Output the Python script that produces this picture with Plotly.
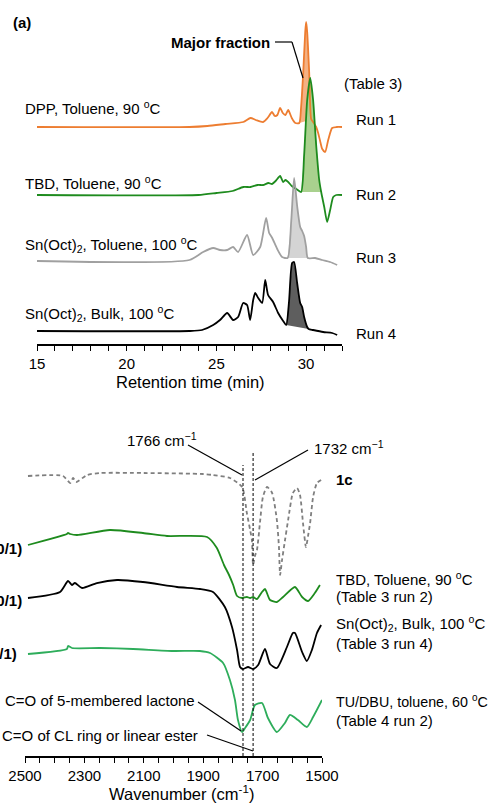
import numpy as np
import plotly.graph_objects as go

# ---------------- (a) GPC traces: retention time (min) vs detector signal ----------------
t_run1 = [15, 23.5, 24.5, 25.5, 26.5, 26.9, 27.2, 27.6, 27.85, 28.1, 28.25, 28.4, 28.55, 28.7, 28.85, 29.0,
          29.2, 29.4, 29.62, 29.72, 29.84, 29.95, 30.0, 30.06, 30.17, 30.28, 30.39, 30.56, 30.67, 30.78,
          30.9, 31.06, 31.23, 31.45, 31.7, 32.0]
s_run1 = [0, 0, 1, 3, 5, 9, 7, 5, 9, 15, 11, 12, 19, 14, 12, 17,
          9, 4, 4, 20, 55, 95, 105, 95, 55, 8, 5, 0, -6, -14,
          -22, -25, -13, -1, 0, 0]

t_run2 = [15, 24.0, 25.0, 25.9, 26.5, 26.9, 27.3, 27.6, 27.9, 28.1, 28.3, 28.55, 28.72, 28.85, 29.0, 29.2,
          29.45, 29.72, 29.89, 30.06, 30.23, 30.39, 30.56, 30.73, 30.84, 31.01, 31.17, 31.34, 31.51, 31.68, 32.0]
s_run2 = [0, 0, 2, 4, 8, 8, 10, 10, 12, 11, 14, 19, 13, 15, 13, 9,
          6, 3, 40, 95, 117, 95, 50, 15, 3, -12, -27, -15, -2, 0, 0]

t_run3 = [15, 23.5, 24.26, 24.82, 25.2, 25.6, 25.93, 26.21, 26.71, 27.05, 27.44, 27.77, 27.94, 28.11, 28.39,
          28.66, 28.97, 29.17, 29.33, 29.5, 29.67, 29.78, 29.89, 30.0, 30.09, 30.5, 30.9, 31.34, 31.73]
s_run3 = [0, 1, 9, 13, 11, 11, 14, 9, 26, 6, 14, 43, 28, 23, 12,
          4, 3, 40, 83, 55, 34, 30, 25, 14, 3, 3, 1, -1, -4]

t_run4 = [15, 23.5, 24.2, 24.82, 25.2, 25.6, 25.93, 26.21, 26.49, 26.71, 26.88, 27.05, 27.16, 27.33, 27.55,
          27.72, 27.88, 28.16, 28.44, 28.72, 28.89, 29.05, 29.22, 29.33, 29.5, 29.67, 29.78, 29.89, 30.06,
          30.14, 30.39, 30.95, 31.45, 31.73]
s_run4 = [0, 0, 1, 6, 11, 18, 11, 14, 28, 26, 11, 31, 38, 33, 28,
          51, 36, 29, 18, 10, 6, 30, 68, 69, 48, 28, 24, 14, 4,
          2, 1, -1, -2, -4]

gpc_offsets = [217, 149, 83, 13]
major_windows = [(29.62, 30.30), (29.72, 30.84), (28.97, 30.09), (28.89, 30.14)]
gpc_labels = ["DPP, Toluene, 90 <sup>o</sup>C", "TBD, Toluene, 90 <sup>o</sup>C",
              "Sn(Oct)<sub>2</sub>, Toluene, 100 <sup>o</sup>C", "Sn(Oct)<sub>2</sub>, Bulk, 100 <sup>o</sup>C"]
run_labels = ["Run 1", "Run 2", "Run 3", "Run 4"]
gpc_colors = ["#ED7D31", "#1E8B1E", "#A0A0A0", "#000000"]
gpc_fills = ["#F4B183", "#A9D18E", "#D4D4D4", "#5E5E5E"]
gpc_ticks = [15, 20, 25, 30]

# ---------------- (b) IR spectra: wavenumber (cm-1) vs transmittance (a.u.) ----------------
w_1c = [2490, 2372, 2348, 2338, 2328, 2291, 2247, 2100, 1900, 1867, 1810, 1769, 1753, 1742, 1736, 1732,
        1726, 1719, 1709, 1699, 1685, 1668, 1652, 1645, 1641, 1635, 1625, 1614, 1598, 1584, 1574, 1564,
        1554, 1547, 1540, 1530, 1517, 1503]
s_1c = [0, 0, -7, -2, -6, 1, 3, 3, 2, 1, -2, -11, -37, -54, -64, -89,
        -80, -74, -47, -21, -11, -17, -44, -71, -99, -85, -65, -44, -17, -12, -19, -47,
        -71, -60, -47, -21, -7, -4]

w_tbd = [2490, 2359, 2355, 2348, 2325, 2214, 2103, 2022, 1887, 1854, 1830, 1813, 1799, 1786, 1769, 1753,
         1742, 1732, 1719, 1702, 1692, 1675, 1652, 1631, 1591, 1567, 1547, 1524, 1507]
s_tbd = [0, 11, 12, 11, 10, 15, 12, 9, 8, -3, -20, -30, -40, -51, -53, -52,
         -53, -52, -54, -47, -44, -55, -57, -52, -42, -52, -56, -48, -40]

w_sn = [2490, 2382, 2355, 2342, 2332, 2308, 2258, 2190, 2103, 1988, 1911, 1867, 1827, 1803, 1786, 1776,
        1766, 1749, 1732, 1715, 1692, 1675, 1652, 1618, 1598, 1591, 1567, 1551, 1534, 1517, 1503]
s_sn = [0, 6, 17, 13, 15, 10, 15, 18, 16, 11, 9, 6, -9, -29, -52, -69,
        -71, -69, -71, -67, -51, -66, -70, -49, -35, -35, -54, -63, -52, -35, -27]

w_tu = [2490, 2359, 2355, 2342, 2247, 2136, 2002, 1911, 1877, 1833, 1810, 1793, 1783, 1769, 1759, 1742,
        1726, 1702, 1682, 1652, 1625, 1608, 1581, 1551, 1530, 1500]
s_tu = [0, 5, 8, 6, 6, 5, 3, 3, 1, -9, -26, -46, -66, -78, -74, -66,
        -51, -49, -64, -78, -69, -61, -66, -73, -63, -46]

ir_offsets = [280, 211, 158, 102]
ir_marks = [1766, 1732]
ir_ticks = [2500, 2300, 2100, 1900, 1700, 1500]

FONT = "Liberation Sans, Arial, sans-serif"
W, H = 500, 804


def P(xp, yp):
    return xp / W, 1 - yp / H


fig = go.Figure()

# GPC fills (major fraction) then lines
gpc_t = [t_run1, t_run2, t_run3, t_run4]
gpc_s = [s_run1, s_run2, s_run3, s_run4]
for t, s, off, (a, b), fc in zip(gpc_t, gpc_s, gpc_offsets, major_windows, gpc_fills):
    t = np.array(t, float)
    y = np.array(s, float) + off
    inside = (t > a) & (t < b)
    xs = np.concatenate([[a], t[inside], [b]])
    ys = np.concatenate([[np.interp(a, t, y)], y[inside], [np.interp(b, t, y)]])
    fig.add_trace(go.Scatter(x=xs, y=ys, mode="lines", fill="toself", fillcolor=fc,
                             line=dict(width=0, color=fc), xaxis="x", yaxis="y",
                             hoverinfo="skip", showlegend=False))
for t, s, off, c in zip(gpc_t, gpc_s, gpc_offsets, gpc_colors):
    fig.add_trace(go.Scatter(x=t, y=np.array(s, float) + off, mode="lines",
                             line=dict(color=c, width=1.8, shape="spline", smoothing=0.6),
                             xaxis="x", yaxis="y", showlegend=False))

# IR spectra
ir_w = [w_1c, w_tbd, w_sn, w_tu]
ir_s = [s_1c, s_tbd, s_sn, s_tu]
ir_styles = [dict(color="#7F7F7F", width=1.8, dash="4px,3px"),
             dict(color="#1E8B1E", width=1.8),
             dict(color="#000000", width=1.8),
             dict(color="#2EAD5B", width=1.8)]
for w, s, off, st in zip(ir_w, ir_s, ir_offsets, ir_styles):
    fig.add_trace(go.Scatter(x=w, y=np.array(s, float) + off, mode="lines",
                             line=dict(shape="spline", smoothing=0.6, **st),
                             xaxis="x2", yaxis="y2", showlegend=False))

# Vertical dashed marker lines at the carbonyl bands
for wm, ytop in zip(ir_marks, [756 - 465, 756 - 452]):
    fig.add_shape(type="line", xref="x2", yref="y2", x0=wm, x1=wm, y0=0, y1=ytop,
                  line=dict(color="black", width=1, dash="3px,2px"))

# Leader lines (annotation pointers)
def seg(pts):
    for (x0, y0), (x1, y1) in zip(pts[:-1], pts[1:]):
        a0, b0 = P(x0, y0)
        a1, b1 = P(x1, y1)
        fig.add_shape(type="line", xref="paper", yref="paper", x0=a0, y0=b0, x1=a1, y1=b1,
                      line=dict(color="black", width=1.2))

seg([(275, 42), (292, 42), (303, 78)])
seg([(188, 445), (242, 475)])
seg([(308, 450), (255, 480)])
seg([(198, 702), (241, 731)])
seg([(207, 735), (253, 751)])


def txt(s, xp, yp, size=15, bold=False, anchor="left"):
    x, y = P(xp, yp)
    if bold:
        s = "<b>" + s + "</b>"
    fig.add_annotation(text=s, x=x, y=y, xref="paper", yref="paper", xanchor=anchor,
                       yanchor="middle", showarrow=False, borderpad=0,
                       font=dict(family=FONT, size=size, color="black"))


txt("(a)", 12, 22, 15, True)
txt("Major fraction", 271, 42, 15, True, "right")
txt("(Table 3)", 343, 83)
for lab, yp in zip(gpc_labels, [108, 182, 244, 313]):
    txt(lab, 24, yp)
for lab, yp in zip(run_labels, [120, 194, 257, 333]):
    txt(lab, 355, yp)
txt("Retention time (min)", 190, 382, 16.5, False, "center")

txt("1766 cm<sup>\u22121</sup>", 126, 440)
txt("1732 cm<sup>\u22121</sup>", 313, 447)
txt("1c", 335, 480, 15, True)
txt("TBD, Toluene, 90 <sup>o</sup>C", 335, 578)
txt("(Table 3 run 2)", 335, 596)
txt("Sn(Oct)<sub>2</sub>, Bulk, 100 <sup>o</sup>C", 335, 623)
txt("(Table 3 run 4)", 335, 643)
txt("TU/DBU, toluene, 60 <sup>o</sup>C", 335, 701, 14.3)
txt("(Table 4 run 2)", 335, 720)
txt("(20/1)", 23, 548, 15, True, "right")
txt("(20/1)", 23, 600, 15, True, "right")
txt("(5/1)", 18, 653, 15, True, "right")
txt("C=O of 5-membered lactone", 4, 700)
txt("C=O of CL ring or linear ester", 1, 735)
txt("Wavenumber (cm<sup>-1</sup>)", 181, 793, 16.5, False, "center")

axis_common = dict(showline=True, linecolor="black", linewidth=1.5, ticks="outside", ticklen=5,
                   tickwidth=1.2, tickcolor="black", showgrid=False, zeroline=False,
                   tickfont=dict(family=FONT, size=15, color="black"))

fig.update_layout(
    width=W, height=H, autosize=False,
    margin=dict(l=0, r=0, t=0, b=0, autoexpand=False),
    paper_bgcolor="white", plot_bgcolor="white",
    showlegend=False,
    xaxis=dict(domain=[37 / W, 342 / W], range=[15, 32], anchor="y",
               tickvals=gpc_ticks,
               minor=dict(dtick=1, tick0=15, ticks="outside", ticklen=5, tickcolor="black", tickwidth=1.2),
               **axis_common),
    yaxis=dict(domain=[1 - 344 / H, 1 - 15 / H], range=[0, 329], visible=False),
    xaxis2=dict(domain=[25 / W, 322 / W], range=[2500, 1500], anchor="y2",
                tickvals=ir_ticks,
                minor=dict(dtick=50, tick0=1500, ticks="outside", ticklen=5, tickcolor="black", tickwidth=1.2),
                **axis_common),
    yaxis2=dict(domain=[1 - 756 / H, 1 - 410 / H], range=[0, 346], visible=False),
)

fig.write_html("out.html", config={"displayModeBar": False},
               post_script="document.body.style.margin='0';")
